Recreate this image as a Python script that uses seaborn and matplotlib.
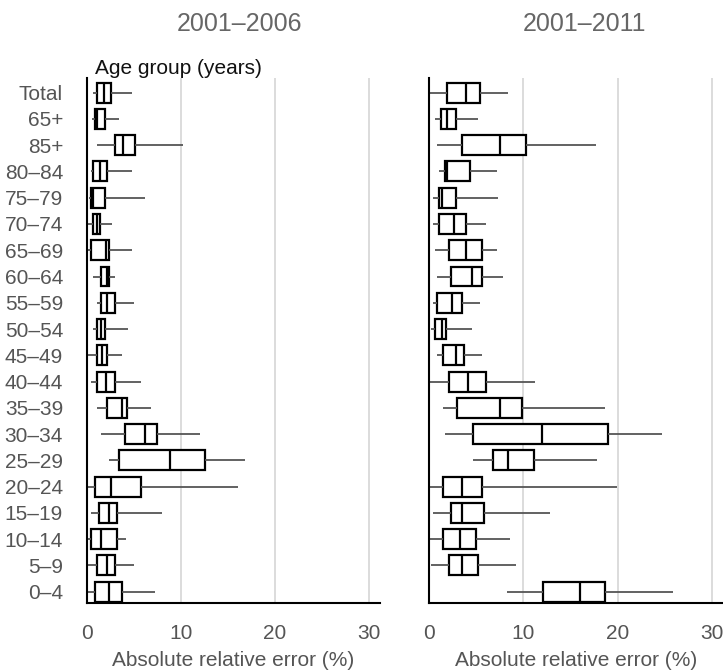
import matplotlib
matplotlib.use('Agg')
import matplotlib.pyplot as plt
import numpy as np
import pandas as pd
import seaborn as sns

# age groups, top to bottom
groups = ['Total', '65+', '85+', '80\u201384', '75\u201379', '70\u201374', '65\u201369',
          '60\u201364', '55\u201359', '50\u201354', '45\u201349', '40\u201344', '35\u201339',
          '30\u201334', '25\u201329', '20\u201324', '15\u201319', '10\u201314', '5\u20139', '0\u20134']

# box stats: whisker low, q1, median, q3, whisker high
p2006_lo  = [0.71, 0.53, 1.06, 0.42, 0.28, 0.18, 0.18, 0.64, 1.06, 0.64, 0.18, 0.42, 1.06, 1.52, 2.40, 0.07, 0.42, 0.07, 0.07, 0.07]
p2006_q1  = [1.06, 0.88, 3.00, 0.71, 0.42, 0.71, 0.46, 1.52, 1.52, 1.06, 1.06, 1.06, 2.19, 4.06, 3.46, 0.88, 1.34, 0.42, 1.06, 0.88]
p2006_med = [1.80, 1.06, 3.89, 1.41, 0.71, 1.13, 2.05, 2.12, 2.12, 1.52, 1.59, 2.05, 3.71, 6.22, 8.83, 2.58, 2.40, 1.52, 2.19, 2.40]
p2006_q3  = [2.58, 1.98, 5.12, 2.19, 1.98, 1.41, 2.40, 2.33, 3.04, 1.94, 2.12, 3.04, 4.24, 7.49, 12.58, 5.83, 3.25, 3.25, 3.04, 3.71]
p2006_hi  = [4.77, 3.46, 10.25, 4.77, 6.22, 2.65, 4.77, 3.04, 5.02, 4.35, 3.71, 5.83, 6.89, 12.01, 16.89, 16.08, 8.02, 4.17, 5.02, 7.31]

p2011_lo  = [0.07, 0.60, 0.78, 1.02, 0.35, 0.35, 0.60, 0.78, 0.35, 0.14, 0.78, 0.07, 1.41, 1.66, 4.66, 0.07, 0.42, 0.07, 0.14, 8.30]
p2011_q1  = [1.91, 1.24, 3.45, 1.66, 1.02, 1.02, 2.08, 2.30, 0.85, 0.60, 1.48, 2.12, 2.98, 4.68, 6.80, 1.48, 2.30, 1.48, 2.08, 12.12]
p2011_med = [3.90, 1.91, 7.46, 1.91, 1.38, 2.65, 3.90, 4.50, 2.37, 1.31, 2.83, 4.07, 7.46, 11.98, 8.33, 3.45, 3.45, 3.25, 3.45, 16.05]
p2011_q3  = [5.39, 2.79, 10.27, 4.32, 2.79, 3.90, 5.64, 5.64, 3.45, 1.77, 3.67, 6.03, 9.85, 19.02, 11.16, 5.64, 5.82, 4.96, 5.14, 18.63]
p2011_hi  = [8.41, 5.21, 17.66, 7.17, 7.34, 6.03, 7.17, 7.78, 5.39, 4.50, 5.64, 11.19, 18.66, 24.68, 17.77, 19.98, 12.86, 8.60, 9.24, 25.92]

titles = ['2001\u20132006', '2001\u20132011']
xlabel = 'Absolute relative error (%)'


def long_table(lo, q1, med, q3, hi):
    rows = []
    for i, g in enumerate(groups):
        for v in (lo[i], q1[i], med[i], q3[i], hi[i]):
            rows.append({'group': g, 'value': v})
    return pd.DataFrame(rows)


d2006 = long_table(p2006_lo, p2006_q1, p2006_med, p2006_q3, p2006_hi)
d2011 = long_table(p2011_lo, p2011_q1, p2011_med, p2011_q3, p2011_hi)

sns.set_style('white')
plt.rcParams['font.family'] = ['Liberation Sans', 'DejaVu Sans']

fig = plt.figure(figsize=(7.23, 6.72), dpi=100)
ax1 = fig.add_axes([0.1199, 0.1027, 0.4057, 0.7813])
ax2 = fig.add_axes([0.5938, 0.1027, 0.4062, 0.7813])

grey = '#555555'
for ax, d, ttl, tx in [(ax1, d2006, titles[0], 240), (ax2, d2011, titles[1], 585)]:
    for x in [10, 20, 30]:
        ax.axvline(x, color='#d9d9d9', lw=1.3, zorder=0)
    sns.boxplot(data=d, x='value', y='group', order=groups, ax=ax,
                whis=(0, 100), width=0.76, showcaps=False, showfliers=False,
                color='white', linecolor='black', linewidth=1.6,
                whiskerprops={'color': grey, 'linewidth': 1.3},
                medianprops={'color': 'black', 'linewidth': 1.6})
    ax.set_xlim(0, 31.2)
    ax.set_ylim(19.43, -0.56)
    ax.set_xticks([0, 10, 20, 30])
    ax.set_xlabel(xlabel, fontsize=15, color=grey, labelpad=6)
    ax.set_ylabel('')
    ax.tick_params(axis='x', length=0, pad=15, labelsize=15, colors=grey)
    ax.tick_params(axis='y', length=0, pad=17, labelsize=15, colors=grey)
    for s in ['top', 'right']:
        ax.spines[s].set_visible(False)
    for s in ['left', 'bottom']:
        ax.spines[s].set_color('black')
        ax.spines[s].set_linewidth(1.5)
    fig.text(tx / 723, 1 - 24 / 672, ttl, ha='center', va='center', fontsize=18, color='#666666')

ax2.set_yticklabels([])
fig.text(95 / 723, 1 - 69 / 672, 'Age group (years)', ha='left', va='center', fontsize=15, color='#111111')

fig.savefig('out.png', dpi=100)
